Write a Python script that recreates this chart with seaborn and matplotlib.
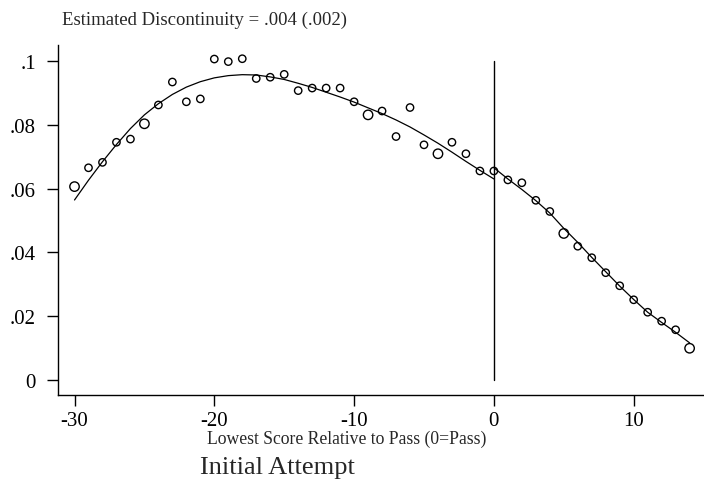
import numpy as np
import pandas as pd
import matplotlib
matplotlib.use("Agg")
import matplotlib.pyplot as plt
import seaborn as sns

# ---- data ----
bin_x = list(range(-30, 15))
bin_y = [0.0606, 0.0665, 0.0682, 0.0745, 0.0755, 0.0803, 0.0862, 0.0934, 0.0872, 0.0881,
         0.1006, 0.0998, 0.1007, 0.0945, 0.0949, 0.0958, 0.0907, 0.0915, 0.0915, 0.0915,
         0.0872, 0.0831, 0.0843, 0.0763, 0.0854, 0.0737, 0.0709, 0.0745, 0.0709, 0.0655,
         0.0655, 0.0627, 0.0618, 0.0563, 0.0528, 0.0459, 0.0419, 0.0383, 0.0336, 0.0295,
         0.0251, 0.0212, 0.0184, 0.0157, 0.0099]
bin_w = [2, 1, 1, 1, 1, 2, 1, 1, 1, 1,
         1, 1, 1, 1, 1, 1, 1, 1, 1, 1,
         1, 2, 1, 1, 1, 1, 2, 1, 1, 1,
         1, 1, 1, 1, 1, 2, 1, 1, 1, 1,
         1, 1, 1, 1, 2]

left_x = list(range(-30, 1))
left_fit = [0.0564, 0.0626, 0.0684, 0.0738, 0.0788, 0.0831, 0.0866, 0.0895, 0.0918, 0.0935,
            0.0947, 0.0954, 0.0957, 0.0956, 0.0950, 0.0942, 0.0930, 0.0917, 0.0902, 0.0887,
            0.0871, 0.0853, 0.0835, 0.0815, 0.0793, 0.0768, 0.0742, 0.0714, 0.0685, 0.0657,
            0.0630]
right_x = list(range(0, 15))
right_fit = [0.0665, 0.0630, 0.0597, 0.0562, 0.0523, 0.0475, 0.0431, 0.0384, 0.0339, 0.0294,
             0.0252, 0.0212, 0.0180, 0.0149, 0.0116]

x_ticks = [-30, -20, -10, 0, 10]
y_ticks = [0, 0.02, 0.04, 0.06, 0.08, 0.1]
y_tick_labels = ["0", ".02", ".04", ".06", ".08", ".1"]

title_text = "Estimated Discontinuity = .004 (.002)"
x_label = "Lowest Score Relative to Pass (0=Pass)"
sub_caption = "Initial Attempt"

# ---- plotting ----
sns.set_style("ticks")
plt.rcParams["font.family"] = ["Liberation Serif", "DejaVu Serif"]

fig = plt.figure(figsize=(7.04, 4.89), dpi=100)
ax = fig.add_axes([58.3 / 704, 1 - 395.5 / 489, 1 - 58.3 / 704, (395.5 - 45.7) / 489])

pts = pd.DataFrame({"x": bin_x, "y": bin_y, "w": bin_w})
sns.scatterplot(data=pts, x="x", y="y", size="w", sizes={1: 28, 2: 46},
                marker="o", facecolors="none", edgecolor="black", linewidth=1.0,
                legend=False, ax=ax, zorder=3)

sns.lineplot(x=left_x, y=left_fit, color="black", linewidth=0.9, ax=ax)
sns.lineplot(x=right_x, y=right_fit, color="black", linewidth=0.9, ax=ax)

ax.plot([0, 0], [0, 0.1], color="black", linewidth=1.0)

ax.set_xlim(-31.16, 15.03)
ax.set_ylim(-0.0046, 0.1051)
ax.set_xticks(x_ticks)
ax.set_xticklabels([str(t) for t in x_ticks])
ax.set_yticks(y_ticks)
ax.set_yticklabels(y_tick_labels)
ax.tick_params(axis="both", direction="out", length=8, width=1, labelsize=15, colors="black", pad=4)
ax.tick_params(axis="y", pad=8)
for s in ["top", "right"]:
    ax.spines[s].set_visible(False)
for s in ["left", "bottom"]:
    ax.spines[s].set_linewidth(1.0)
    ax.spines[s].set_color("black")
ax.set_xlabel("")
ax.set_ylabel("")

fig.text(62 / 704, 1 - 20 / 489, title_text, ha="left", va="center", fontsize=13.5)
fig.text(347 / 704, 1 - 439 / 489, x_label, ha="center", va="center", fontsize=12.7)
fig.text(277 / 704, 1 - 468 / 489, sub_caption, ha="center", va="center", fontsize=19)

fig.savefig("out.png", dpi=100)
